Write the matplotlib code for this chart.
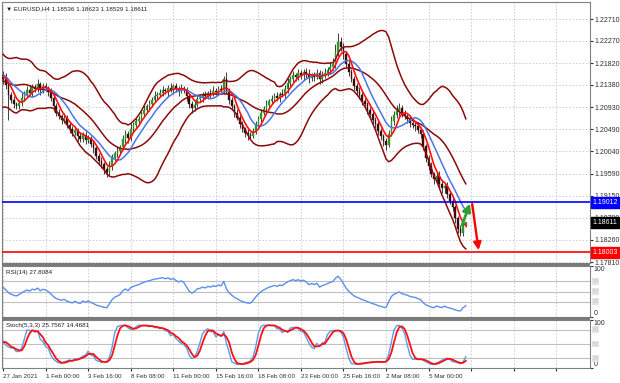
# EURUSD H4 - grafico estilo MT4 con bandas, RSI y estocastico

import numpy as np
import pandas as pd
import matplotlib

matplotlib.use("Agg")
import matplotlib.pyplot as plt
import matplotlib.transforms as mtransforms
from matplotlib.patches import Rectangle

# DATOS
# cierres previos (no visibles, solo para calentar los indicadores)
pre_close = [
    1.2175, 1.2185, 1.2170, 1.2150, 1.2130, 1.2105, 1.2085, 1.2095, 1.2120, 1.2140,
    1.2160, 1.2172, 1.2180, 1.2170, 1.2155, 1.2140, 1.2148, 1.2160, 1.2155, 1.2158,
]
# cierres visibles (velas H4 desde 27 Jan 2021)
close_vis = [
    1.2150, 1.2138, 1.2118, 1.2108, 1.2100, 1.2095, 1.2102, 1.2112, 1.2120, 1.2128,
    1.2122, 1.2133, 1.2130, 1.2140, 1.2127, 1.2135, 1.2132, 1.2124, 1.2112, 1.2095,
    1.2082, 1.2075, 1.2068, 1.2072, 1.2058, 1.2050, 1.2042, 1.2048, 1.2035, 1.2030,
    1.2038, 1.2027, 1.2032, 1.2020, 1.2010, 1.1995, 1.1985, 1.1978, 1.1968, 1.1962,
    1.1975, 1.1990, 1.2000, 1.2005, 1.2012, 1.2030, 1.2040, 1.2032, 1.2050, 1.2058,
    1.2065, 1.2070, 1.2080, 1.2088, 1.2095, 1.2100, 1.2108, 1.2115, 1.2118, 1.2122,
    1.2128, 1.2125, 1.2132, 1.2128, 1.2135, 1.2130, 1.2126, 1.2132, 1.2128, 1.2115,
    1.2100, 1.2092, 1.2098, 1.2110, 1.2112, 1.2118, 1.2115, 1.2122, 1.2120, 1.2126,
    1.2124, 1.2130, 1.2128, 1.2150, 1.2125, 1.2108, 1.2095, 1.2082, 1.2072, 1.2060,
    1.2050, 1.2042, 1.2038, 1.2036, 1.2045, 1.2058, 1.2070, 1.2082, 1.2090, 1.2098,
    1.2105, 1.2110, 1.2116, 1.2112, 1.2120, 1.2118, 1.2130, 1.2142, 1.2150, 1.2158,
    1.2155, 1.2162, 1.2158, 1.2165, 1.2160, 1.2152, 1.2158, 1.2155, 1.2162, 1.2150,
    1.2158, 1.2162, 1.2168, 1.2175, 1.2180, 1.2205, 1.2225, 1.2215, 1.2200, 1.2180,
    1.2165, 1.2150, 1.2135, 1.2125, 1.2118, 1.2105, 1.2100, 1.2088, 1.2080, 1.2068,
    1.2060, 1.2045, 1.2035, 1.2025, 1.2018, 1.2040, 1.2065, 1.2078, 1.2085, 1.2092,
    1.2080, 1.2075, 1.2070, 1.2062, 1.2058, 1.2055, 1.2048, 1.2040, 1.2015, 1.1990,
    1.1975, 1.1958, 1.1948, 1.1955, 1.1938, 1.1930, 1.1935, 1.1918, 1.1905, 1.1892,
    1.1870, 1.1848, 1.1840, 1.18536, 1.18611,
]
# mechas en pips
up_wick = [
    6, 5, 8, 4, 7, 5, 9, 6, 4, 7, 5, 8, 6, 4, 7, 9, 5, 6, 8, 5,
    8, 12, 6, 5, 7, 4, 6, 9, 5, 8, 10, 6, 7, 11, 5, 8, 6, 4, 7, 5, 6, 8, 4, 9, 5,
    6, 5, 8, 4, 7, 5, 9, 6, 4, 6, 8, 5, 7, 4, 6, 10, 8, 5, 9, 6, 7, 8, 5, 11, 6,
    7, 5, 6, 9, 4, 8, 6, 10, 5, 7, 8, 4, 6, 9, 5, 7, 6, 8, 4, 5, 7, 6, 9, 8, 5,
    6, 8, 4, 7, 9, 5, 6, 8, 7, 14, 6, 5, 4, 8, 5, 6, 4, 7, 5, 6, 8, 5, 7, 6, 9,
    5, 7, 6, 8, 4, 9, 7, 10, 6, 8, 5, 9, 7, 6, 8, 10, 5, 7, 9, 6, 8, 11, 7, 9, 12,
    15, 17, 9, 7, 6, 8, 5, 7, 6, 8, 5, 7, 4, 6, 8, 5, 6, 7, 5, 6, 8, 10, 7, 12, 9,
    6, 8, 5, 7, 6, 5, 8, 6, 7, 5, 6, 8, 4, 7, 9, 6, 5, 7, 6, 8, 5, 4, 7, 9, 1,
]
lo_wick = [
    5, 7, 4, 8, 6, 9, 5, 7, 6, 4, 8, 5, 7, 6, 4, 5, 8, 6, 4, 7,
    10, 9, 50, 7, 8, 6, 5, 7, 6, 9, 5, 8, 6, 7, 9, 5, 6, 8, 7, 9, 6, 5, 8, 7, 6,
    8, 6, 5, 9, 7, 6, 8, 5, 7, 9, 6, 8, 7, 10, 9, 6, 8, 5, 7, 6, 5, 9, 11, 6, 7,
    5, 8, 6, 7, 5, 9, 6, 4, 8, 5, 7, 6, 9, 5, 8, 6, 10, 5, 7, 9, 8, 11, 6, 5, 7,
    8, 5, 6, 9, 4, 7, 6, 5, 8, 6, 9, 7, 8, 5, 9, 6, 8, 10, 7, 5, 6, 4, 7, 5, 6,
    8, 5, 7, 6, 9, 5, 6, 8, 7, 5, 9, 6, 8, 10, 7, 9, 6, 8, 5, 11, 7, 6, 5, 8, 6,
    7, 9, 8, 10, 7, 9, 6, 8, 7, 9, 8, 6, 9, 7, 8, 9, 7, 8, 10, 12, 6, 5, 8, 6, 9,
    7, 6, 9, 8, 7, 10, 6, 8, 9, 7, 8, 6, 9, 7, 8, 10, 9, 8, 7, 9, 10, 8, 6, 7, 1,
]

price_ticks = [1.22710, 1.22270, 1.21820, 1.21380, 1.20930, 1.20490,
               1.20040, 1.19590, 1.19150, 1.18700, 1.18260, 1.17810]
date_pos = [0, 16, 32, 48, 64, 80, 96, 112, 128, 144, 160]
date_labels = ["27 Jan 2021", "1 Feb 00:00", "3 Feb 16:00", "8 Feb 08:00",
               "11 Feb 00:00", "15 Feb 16:00", "18 Feb 08:00", "23 Feb 00:00",
               "25 Feb 16:00", "2 Mar 08:00", "5 Mar 00:00"]
last_ohlc = ["1.18536", "1.18623", "1.18529", "1.18611"]
rsi_label = "RSI(14) 27.8084"
stoch_label = "Stoch(5,3,3) 25.7567 14.4681"

resistance = 1.19012
support = 1.18003
# flechas de pronostico (indice de vela, precio)
arrow_up = [(172.6, 1.18560), (175.6, 1.18990)]
arrow_down = [(176.4, 1.18980), (178.8, 1.18050)]

# CONSTANTES
FONT = ["Liberation Sans", "DejaVu Sans"]
FS = 5
FS_SMALL = 4.5
GRID = dict(color="#c8c8c8", linestyle=(0, (2, 2)), linewidth=0.6)
XMIN, XMAX = -0.4, 220.7
W, H = 620, 383

plt.rcParams["font.family"] = FONT
plt.rcParams["font.size"] = FS

# --------------------------------------------------------------------------------------------
closes = np.array(pre_close + close_vis)
opens = np.r_[closes[0], closes[:-1]]
highs = np.maximum(opens, closes) + np.array(up_wick) * 1e-4
lows = np.minimum(opens, closes) - np.array(lo_wick) * 1e-4
n_pre = len(pre_close)
idx = np.arange(len(closes)) - n_pre

s = pd.Series(closes)
bb_mid = s.rolling(20).mean()
bb_sd = s.rolling(20).std(ddof=0)
bb_up = bb_mid + 2 * bb_sd
bb_lo = bb_mid - 2 * bb_sd
ma_fast = s.rolling(5).mean()
ma_slow = s.rolling(10).mean()

# RSI(14) con suavizado de Wilder
delta = s.diff()
avg_gain = delta.clip(lower=0).ewm(alpha=1 / 14, adjust=False).mean()
avg_loss = (-delta.clip(upper=0)).ewm(alpha=1 / 14, adjust=False).mean()
rsi = 100 - 100 / (1 + avg_gain / avg_loss)

# Estocastico (5,3,3)
ll = pd.Series(lows).rolling(5).min()
hh = pd.Series(highs).rolling(5).max()
stoch_k = (s - ll).rolling(3).sum() / (hh - ll).rolling(3).sum() * 100
stoch_d = stoch_k.rolling(3).mean()

vis = idx >= 0


def px_axes(fig, left, top, right, bottom):
    # Crea un eje a partir de coordenadas en pixeles
    return fig.add_axes([left / W, 1 - bottom / H, (right - left) / W, (bottom - top) / H])


def style_axes(ax):
    for sp in ax.spines.values():
        sp.set_color("#808080")
        sp.set_linewidth(0.8)
    ax.set_xlim(XMIN, XMAX)
    ax.yaxis.tick_right()
    ax.tick_params(axis="y", length=2, pad=1, labelsize=FS, colors="#303030")
    ax.tick_params(axis="x", length=0, labelbottom=False)
    ax.set_xticks(np.arange(0, 221, 16))
    ax.grid(True, **GRID)
    ax.set_axisbelow(True)


def oscillator_axes(ax, levels):
    # Eje 0-100 con etiquetas estilo MT4 y niveles en gris
    ax.set_ylim(0, 100)
    ax.set_yticks([0, 100])
    ax.set_yticklabels([])
    tr = mtransforms.blended_transform_factory(ax.transAxes, ax.transData)
    ax.text(1.006, 100, "100", transform=tr, fontsize=FS, va="top", ha="left", color="#303030")
    ax.text(1.006, 0, "0", transform=tr, fontsize=FS, va="bottom", ha="left", color="#303030")
    for lev in levels:
        ax.axhline(lev, color="#c0c0c0", linewidth=0.8, zorder=1)
        ax.text(1.004, lev, str(lev), transform=tr, fontsize=4, color="#c8c8c8", va="center",
                bbox=dict(boxstyle="square,pad=0.15", facecolor="#e4e4e4", edgecolor="none"))


fig = plt.figure(figsize=(W / 100, H / 100), dpi=100)

# Panel principal
ax = px_axes(fig, 2, 2, 590, 263)
style_axes(ax)
ax.set_ylim(1.17791, 1.23053)
ax.set_yticks(price_ticks)
ax.set_yticklabels([f"{p:.5f}" for p in price_ticks])

iv = idx[vis]
o, c, hi, lo = opens[vis], closes[vis], highs[vis], lows[vis]
bull = c >= o
ax.vlines(iv, lo, hi, color="#202020", linewidth=0.6, zorder=2)
body_col = np.where(bull, "#2e9a2e", "#3b0b0b")
ax.bar(iv, np.maximum(np.abs(c - o), 0.00008), bottom=np.minimum(o, c),
       width=0.62, color=body_col, edgecolor=body_col, linewidth=0.3, zorder=3)

for band in (bb_up, bb_mid, bb_lo):
    ax.plot(iv, band[vis], color="#8b0a0a", linewidth=1.1, zorder=4)
ax.plot(iv, ma_slow[vis], color="#4a76e8", linewidth=1.1, zorder=5)
ax.plot(iv, ma_fast[vis], color="#ff1010", linewidth=1.2, zorder=6)

ax.axhline(resistance, color="#0000ff", linewidth=1.2, zorder=7)
ax.axhline(support, color="#ff0000", linewidth=1.2, zorder=7)

(x0, y0), (x1, y1) = arrow_up
ax.annotate("", xy=(x1, y1), xytext=(x0, y0),
            arrowprops=dict(arrowstyle="-|>,head_width=0.45,head_length=0.9",
                            color="#2ca02c", lw=2.0, linestyle=(0, (1.2, 0.5)),
                            shrinkA=0, shrinkB=0, mutation_scale=5), zorder=8)
(x0, y0), (x1, y1) = arrow_down
ax.annotate("", xy=(x1, y1), xytext=(x0, y0),
            arrowprops=dict(arrowstyle="-|>,head_width=0.45,head_length=0.9",
                            color="#ff0000", lw=1.7, shrinkA=0, shrinkB=0,
                            mutation_scale=5), zorder=8)

trans = mtransforms.blended_transform_factory(ax.transAxes, ax.transData)
for val, col in ((resistance, "#0000ff"), (float(last_ohlc[3]), "#000000"), (support, "#ff0000")):
    ax.text(1.004, val, f"{val:.5f}", transform=trans, color="white", fontsize=FS,
            va="center", ha="left", zorder=10, clip_on=False,
            bbox=dict(boxstyle="square,pad=0.25", facecolor=col, edgecolor=col))

ax.text(0.006, 0.985, "\u25bc EURUSD,H4 " + " ".join(last_ohlc), transform=ax.transAxes,
        fontsize=FS_SMALL, va="top", ha="left", color="#202020")

# Panel RSI
ax_rsi = px_axes(fig, 2, 266, 590, 317)
style_axes(ax_rsi)
oscillator_axes(ax_rsi, (30, 50, 70))
ax_rsi.plot(iv, rsi[vis], color="#5b8ff0", linewidth=1.0)
ax_rsi.text(0.006, 0.93, rsi_label, transform=ax_rsi.transAxes,
            fontsize=FS_SMALL, va="top", ha="left", color="#202020")

# Panel estocastico
ax_st = px_axes(fig, 2, 320, 590, 368)
style_axes(ax_st)
oscillator_axes(ax_st, (20, 50, 80))
ax_st.plot(iv, stoch_k[vis], color="#5b9bf0", linewidth=1.0)
ax_st.plot(iv, stoch_d[vis], color="#ff1010", linewidth=1.3)
ax_st.text(0.006, 0.93, stoch_label, transform=ax_st.transAxes,
           fontsize=FS_SMALL, va="top", ha="left", color="#202020")

ax_st.tick_params(axis="x", length=2, labelbottom=True, pad=2, labelsize=FS_SMALL,
                  colors="#303030")
ax_st.set_xticks(np.arange(0, 221, 16))
ax_st.set_xticklabels(date_labels + [""] * (len(np.arange(0, 221, 16)) - len(date_labels)))
for t in ax_st.get_xticklabels():
    t.set_ha("left")

# separadores entre paneles
for top, bottom in ((263, 266), (317, 320)):
    fig.patches.append(Rectangle((2 / W, 1 - bottom / H), 588 / W, (bottom - top) / H,
                                 transform=fig.transFigure, facecolor="#7a7a7a",
                                 edgecolor="none", zorder=20))

fig.savefig("out.png", dpi=100)
